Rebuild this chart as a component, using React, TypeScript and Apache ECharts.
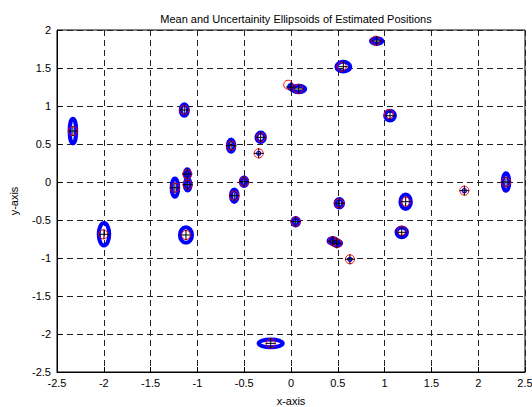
import React, { useEffect, useRef } from "react";
import * as echarts from "echarts";

// Estimated mean positions (black plus)
const meanX = [-2.33, -1.14, -0.64, -1.108, -1.104, -1.24, -0.606, -0.502, -0.324, -0.345, 0.0, 0.082, 0.559, 0.915, 1.058, 0.05, 0.516, 1.225, 1.183, 0.446, 0.49, 0.63, -0.217, -1.998, -1.122, 1.852, 2.297];
const meanY = [0.67, 0.947, 0.478, 0.105, -0.035, -0.075, -0.18, 0.004, 0.588, 0.377, 1.25, 1.224, 1.517, 1.855, 0.872, -0.522, -0.28, -0.259, -0.662, -0.776, -0.806, -1.017, -2.123, -0.688, -0.697, -0.114, 0.0];
// Reference positions (red circles)
const refX = [-2.33, -1.14, -0.64, -1.108, -1.104, -1.24, -0.606, -0.502, -0.324, -0.345, -0.03, 0.078, 0.541, 0.905, 1.047, 0.05, 0.516, 1.225, 1.183, 0.446, 0.49, 0.63, -0.217, -2.005, -1.122, 1.852, 2.297];
const refY = [0.67, 0.947, 0.478, 0.105, -0.035, -0.075, -0.18, 0.004, 0.588, 0.377, 1.28, 1.224, 1.517, 1.86, 0.895, -0.522, -0.28, -0.259, -0.641, -0.776, -0.806, -1.017, -2.123, -0.688, -0.697, -0.114, 0.0];
// Uncertainty ellipse semi-axes
const semiX = [0.035, 0.038, 0.035, 0.026, 0.031, 0.035, 0.035, 0.035, 0.045, 0.006, 0.02, 0.07, 0.074, 0.061, 0.052, 0.035, 0.04, 0.056, 0.056, 0.045, 0.045, 0.006, 0.129, 0.056, 0.065, 0.006, 0.035];
const semiY = [0.162, 0.076, 0.08, 0.062, 0.076, 0.12, 0.082, 0.056, 0.062, 0.008, 0.025, 0.043, 0.064, 0.038, 0.064, 0.049, 0.056, 0.095, 0.064, 0.036, 0.036, 0.008, 0.051, 0.148, 0.102, 0.008, 0.115];

const xTicks = { min: -2.5, max: 2.5, interval: 0.5 };
const yTicks = { min: -2.5, max: 2, interval: 0.5 };

const FONT = "'Liberation Sans', Arial, Helvetica, sans-serif";

export default function App() {
  const ref = useRef<HTMLDivElement>(null);
  useEffect(() => {
    if (!ref.current) return;
    const chart = echarts.init(ref.current, undefined, { renderer: "svg" });
    const ellData = meanX.map((x, i) => [x, meanY[i], semiX[i] * 2, semiY[i] * 2]);
    const refData = refX.map((x, i) => [x, refY[i]]);
    const meanData = meanX.map((x, i) => [x, meanY[i]]);
    const axisCommon = {
      type: "value" as const,
      axisLine: { show: true, onZero: false, lineStyle: { color: "#000", width: 1 } },
      axisTick: { show: true, inside: true, length: 5, lineStyle: { color: "#000" } },
      axisLabel: { color: "#000", fontSize: 11, fontFamily: FONT },
      splitLine: { show: true, lineStyle: { color: "#222", type: [6, 4], width: 1 } },
      nameTextStyle: { color: "#000", fontSize: 11, fontFamily: FONT },
    };
    chart.setOption({
      animation: false,
      backgroundColor: "#fff",
      title: {
        text: "Mean and Uncertainity Ellipsoids of Estimated Positions",
        left: 291,
        top: 8,
        textAlign: "center",
        textStyle: { color: "#000", fontSize: 11, fontWeight: "normal", fontFamily: FONT },
      },
      grid: {
        left: 57,
        top: 30,
        right: 7,
        bottom: 35,
        containLabel: false,
        outerBoundsMode: "none",
        show: true,
        borderColor: "#000",
        borderWidth: 1,
        backgroundColor: "#fff",
      },
      xAxis: {
        ...axisCommon,
        min: xTicks.min,
        max: xTicks.max,
        interval: xTicks.interval,
        name: "x-axis",
        nameLocation: "middle",
        nameGap: 23,
        axisLabel: { ...axisCommon.axisLabel, margin: 5 },
      },
      yAxis: {
        ...axisCommon,
        min: yTicks.min,
        max: yTicks.max,
        interval: yTicks.interval,
        name: "y-axis",
        nameLocation: "middle",
        nameGap: 38,
        axisLabel: { ...axisCommon.axisLabel, margin: 6 },
      },
      series: [
        {
          type: "custom",
          data: ellData,
          encode: { x: 0, y: 1 },
          renderItem: (params: any, api: any) => {
            const c = api.coord([api.value(0), api.value(1)]);
            const s = api.size([api.value(2), api.value(3)], [api.value(0), api.value(1)]);
            return {
              type: "ellipse",
              shape: { cx: c[0], cy: c[1], rx: s[0] / 2, ry: s[1] / 2 },
              style: { fill: "none", stroke: "#0000ff", lineWidth: 4 },
            };
          },
          z: 2,
        },
        {
          type: "custom",
          data: refData,
          encode: { x: 0, y: 1 },
          renderItem: (params: any, api: any) => {
            const c = api.coord([api.value(0), api.value(1)]);
            return {
              type: "circle",
              shape: { cx: c[0], cy: c[1], r: 4.5 },
              style: { fill: "none", stroke: "#ff0000", lineWidth: 1 },
            };
          },
          z: 3,
        },
        {
          type: "custom",
          data: meanData,
          encode: { x: 0, y: 1 },
          renderItem: (params: any, api: any) => {
            const c = api.coord([api.value(0), api.value(1)]);
            const h = 5;
            return {
              type: "group",
              children: [
                { type: "line", shape: { x1: c[0] - h, y1: c[1], x2: c[0] + h, y2: c[1] }, style: { stroke: "#000", lineWidth: 1 } },
                { type: "line", shape: { x1: c[0], y1: c[1] - h, x2: c[0], y2: c[1] + h }, style: { stroke: "#000", lineWidth: 1 } },
              ],
            };
          },
          z: 4,
        },
      ],
    });
    return () => chart.dispose();
  }, []);
  return <div ref={ref} style={{ position: "fixed", left: 0, top: 0, width: 532, height: 407 }} />;
}
